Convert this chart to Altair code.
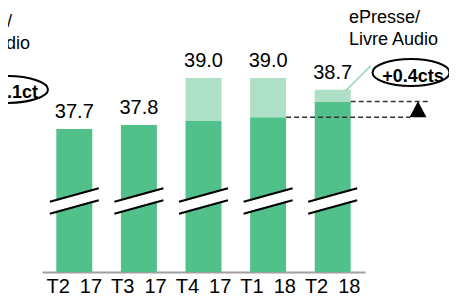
import altair as alt
import pandas as pd

# ---- data ----
quarters = ["T2 17", "T3 17", "T4 17", "T1 18", "T2 18"]
totals = [37.7, 37.8, 39.0, 39.0, 38.7]          # total incl. ePresse / Livre Audio
core = [37.7, 37.8, 37.9, 38.0, 38.4]            # without ePresse / Livre Audio
annot_label = ["ePresse/", "Livre Audio"]
delta_left = "+0.1ct"
delta_right = "+0.4cts"

Y_MIN, Y_MAX = 34.05, 40.785
DARK = "#52C08A"
LIGHT = "#AEE0C7"
FONT = "Liberation Sans"

df = pd.DataFrame({"q": quarters, "total": totals, "core": core})

xs = alt.Scale(domain=quarters, paddingInner=0.443, paddingOuter=0.2215)
ys = alt.Scale(domain=[Y_MIN, Y_MAX], zero=False, nice=False)

base = alt.Chart(df)

dark = base.mark_bar(color=DARK).encode(
    x=alt.X("q:N", scale=xs, sort=quarters,
            axis=alt.Axis(title=None, labelAngle=0, ticks=False, labelPadding=4,
                          labelFontSize=20, labelFont=FONT, labelColor="black",
                          labelExpr="replace(datum.label, ' ', '\u2002')",
                          domainColor="#A0A0A0", domainWidth=2)),
    y=alt.Y("core:Q", scale=ys, axis=None),
    y2=alt.datum(Y_MIN),
)

light = base.mark_bar(color=LIGHT).encode(
    x=alt.X("q:N", sort=quarters), y="total:Q", y2="core:Q"
)

# axis-break marks
brk_white = base.mark_rule(color="white", strokeWidth=10, xOffset=-24.5, x2Offset=24.5,
                           yOffset=6.7, y2Offset=-6.7).encode(
    x=alt.X("q:N", sort=quarters), x2="q", y=alt.value(193), y2=alt.value(193))
brk_up = base.mark_rule(color="black", strokeWidth=2, xOffset=-24.5, x2Offset=24.5,
                        yOffset=0.7, y2Offset=-12.7).encode(
    x=alt.X("q:N", sort=quarters), x2="q", y=alt.value(193), y2=alt.value(193))
brk_lo = base.mark_rule(color="black", strokeWidth=2, xOffset=-24.5, x2Offset=24.5,
                        yOffset=12.7, y2Offset=-0.7).encode(
    x=alt.X("q:N", sort=quarters), x2="q", y=alt.value(193), y2=alt.value(193))

labels = base.mark_text(fontSize=20, font=FONT, baseline="alphabetic", dy=-11,
                        color="black").encode(
    x=alt.X("q:N", sort=quarters), y="total:Q", text=alt.Text("total:Q", format=".1f"))

last = quarters[-1]
prev = quarters[-2]
first = quarters[0]

one = alt.Chart(pd.DataFrame({"a": [0]}))

# right annotation
r_txt1 = one.mark_text(align="left", baseline="alphabetic", fontSize=18, font=FONT,
                       dx=16.3, color="black").encode(
    x=alt.datum(last), y=alt.value(15), text=alt.value(annot_label[0]))
r_txt2 = one.mark_text(align="left", baseline="alphabetic", fontSize=18, font=FONT,
                       dx=16.3, color="black").encode(
    x=alt.datum(last), y=alt.value(37), text=alt.value(annot_label[1]))
# left annotation (cut by the left edge, as in the original)
l_txt1 = one.mark_text(align="left", baseline="alphabetic", fontSize=18, font=FONT,
                       dx=-133.3, color="black").encode(
    x=alt.datum(first), y=alt.value(19), text=alt.value(annot_label[0]))
l_txt2 = one.mark_text(align="left", baseline="alphabetic", fontSize=18, font=FONT,
                       dx=-133.3, color="black").encode(
    x=alt.datum(first), y=alt.value(41), text=alt.value(annot_label[1]))

ELL_R = "M-1,0A1,0.35,0,1,1,1,0A1,0.35,0,1,1,-1,0Z"
r_ell = one.mark_point(shape=ELL_R, size=5929, filled=False, color="black",
                       strokeWidth=2, opacity=1, xOffset=78.3).encode(
    x=alt.datum(last), y=alt.value(64.5))
r_delta = one.mark_text(fontSize=18, fontWeight="bold", font=FONT, baseline="alphabetic",
                        dx=80.3, color="black").encode(
    x=alt.datum(last), y=alt.value(74), text=alt.value(delta_right))
ELL_L = "M-1,0A1,0.321,0,1,1,1,0A1,0.321,0,1,1,-1,0Z"
l_ell = one.mark_point(shape=ELL_L, size=7056, filled=False, color="black",
                       strokeWidth=2, opacity=1, xOffset=-68.3).encode(
    x=alt.datum(first), y=alt.value(81.5))
l_delta = one.mark_text(fontSize=18, fontWeight="bold", font=FONT, baseline="alphabetic",
                        dx=-62, color="black").encode(
    x=alt.datum(first), y=alt.value(90), text=alt.value(delta_left))

# green leader line
leader = one.mark_rule(color="#8FD4B0", strokeWidth=1.5, xOffset=13, x2Offset=38,
                       yOffset=1, y2Offset=-24).encode(
    x=alt.datum(last), x2=alt.datum(last), y=alt.datum(totals[-1]), y2=alt.datum(totals[-1]))

# dashed reference lines and triangle
dash_up = one.mark_rule(color="#333333", strokeWidth=1.5, strokeDash=[5, 3],
                        xOffset=18, x2Offset=95.3).encode(
    x=alt.datum(last), x2=alt.datum(last), y=alt.datum(core[-1]))
dash_lo = one.mark_rule(color="#333333", strokeWidth=1.5, strokeDash=[5, 3],
                        xOffset=18, x2Offset=77.3).encode(
    x=alt.datum(prev), x2=alt.datum(last), y=alt.datum(core[-2]))
TRI = "M0,-1L1.0625,1L-1.0625,1Z"
tri = one.mark_point(shape=TRI, size=256, filled=True, color="black", opacity=1,
                     strokeWidth=0, xOffset=85.3).encode(
    x=alt.datum(last), y=alt.datum((core[-1] + core[-2]) / 2))

chart = alt.layer(
    dark, light, brk_white, brk_up, brk_lo, labels,
    r_txt1, r_txt2, l_txt1, l_txt2, r_ell, r_delta, l_ell, l_delta,
    leader, dash_up, dash_lo, tri,
).properties(
    width=323, height=264,
    autosize=alt.AutoSizeParams(type="none"),
    padding={"left": 34, "top": 0, "right": 84, "bottom": 25},
).configure_view(stroke=None).configure_axis(grid=False)

chart.save("out.html", embed_options={"renderer": "svg", "actions": False})
